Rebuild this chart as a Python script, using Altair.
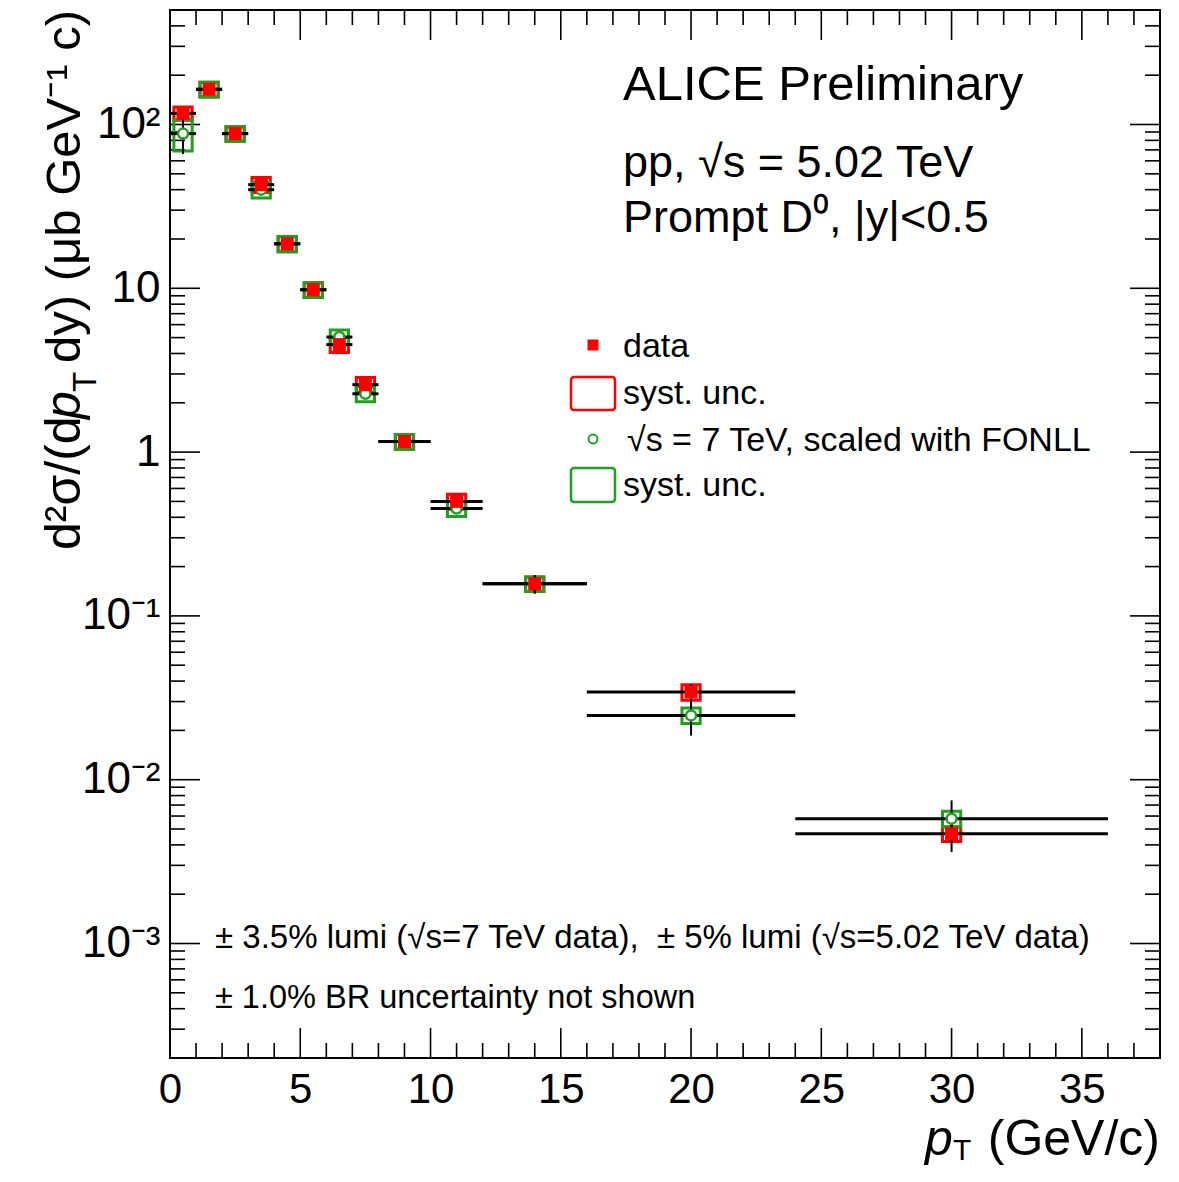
import altair as alt
import pandas as pd

FONT = "Liberation Sans"
RED = "#ff0000"
GREEN = "#1fa01f"

# ---- data ----
pt_center = [0.5, 1.5, 2.5, 3.5, 4.5, 5.5, 6.5, 7.5, 9.0, 11.0, 14.0, 20.0, 30.0]
pt_low = [0, 1, 2, 3, 4, 5, 6, 7, 8, 10, 12, 16, 24]
pt_high = [1, 2, 3, 4, 5, 6, 7, 8, 10, 12, 16, 24, 36]

data_val = [117, 164, 88, 42.9, 18.7, 9.8, 4.53, 2.58, 1.16, 0.50, 0.157, 0.0343, 0.00468]
data_stat = [8, 5, 2.5, 1.2, 0.5, 0.3, 0.15, 0.08, 0.04, 0.02, 0.02, 0.004, 0.00106]
data_syst = [11, 17, 9, 4.5, 2.0, 1.0, 0.48, 0.27, 0.12, 0.052, 0.016, 0.0037, 0.00048]

fonll_val = [88, 164, 88, 40.0, 18.7, 9.8, 5.04, 2.27, 1.16, 0.452, 0.157, 0.0247, 0.00578]
fonll_stat = [22, 6, 3, 1.5, 0.5, 0.3, 0.15, 0.08, 0.04, 0.02, 0.02, 0.0061, 0.0017]
fonll_syst = [19, 17, 9, 4.4, 2.0, 1.0, 0.53, 0.24, 0.12, 0.048, 0.016, 0.0027, 0.00063]

x_major = [0, 5, 10, 15, 20, 25, 30, 35]
x_minor = [v for v in range(1, 39) if v % 5 != 0]
y_major = [1e-3, 1e-2, 1e-1, 1, 10, 100]
y_minor = [k * 10.0 ** n for n in range(-4, 3) for k in range(2, 10) if 2e-4 < k * 10.0 ** n < 500]

BOX_HALF = 0.35  # half width of systematic boxes (GeV/c)

W, H = 990, 1048


def series_df(vals, stat, syst):
    return pd.DataFrame({
        "pt": pt_center, "lo": pt_low, "hi": pt_high, "v": vals,
        "s_lo": [v - s for v, s in zip(vals, stat)],
        "s_hi": [v + s for v, s in zip(vals, stat)],
        "y_lo": [v - s for v, s in zip(vals, syst)],
        "y_hi": [v + s for v, s in zip(vals, syst)],
        "bx0": [p - BOX_HALF for p in pt_center],
        "bx1": [p + BOX_HALF for p in pt_center],
    })


d5 = series_df(data_val, data_stat, data_syst)
d7 = series_df(fonll_val, fonll_stat, fonll_syst)

xs = alt.Scale(domain=[0, 38], nice=False, zero=False)
ys = alt.Scale(type="log", domain=[2e-4, 500], nice=False)

xaxis = alt.Axis(values=x_major, labelFontSize=42, labelFont=FONT, labelColor="black",
                 labelPadding=11, ticks=False, domain=False, grid=False, title=None,
                 labelFlush=False, labelOverlap=False)
yaxis = alt.Axis(values=y_major, labelFontSize=44, labelFont=FONT, labelColor="black",
                 labelPadding=10, ticks=False, domain=False, grid=False, title=None,
                 labelFlush=False, labelOverlap=False,
                 labelExpr="datum.value >= 99 ? '10\u00b2' : datum.value >= 9 ? '10' : "
                           "datum.value >= 0.9 ? '1' : datum.value >= 0.09 ? '10\u207b\u00b9' : "
                           "datum.value >= 0.009 ? '10\u207b\u00b2' : '10\u207b\u00b3'")


def X(f):
    return alt.X(f, type="quantitative", scale=xs, axis=xaxis)


def Y(f):
    return alt.Y(f, type="quantitative", scale=ys, axis=yaxis)


layers = []

# ---- frame ticks (inside, all four sides) ----
def xticks(vals, length):
    df = pd.DataFrame({"t": vals})
    b = alt.Chart(df).mark_rule(color="black", strokeWidth=1.6).encode(
        x=X("t"), y=alt.value(H), y2=alt.value(H - length))
    t = alt.Chart(df).mark_rule(color="black", strokeWidth=1.6).encode(
        x=X("t"), y=alt.value(0), y2=alt.value(length))
    return [b, t]


def yticks(vals, length):
    df = pd.DataFrame({"t": vals})
    l = alt.Chart(df).mark_rule(color="black", strokeWidth=1.6).encode(
        y=Y("t"), x=alt.value(0), x2=alt.value(length))
    r = alt.Chart(df).mark_rule(color="black", strokeWidth=1.6).encode(
        y=Y("t"), x=alt.value(W), x2=alt.value(W - length))
    return [l, r]


layers += xticks(x_major, 30) + xticks(x_minor, 15)
layers += yticks(y_major, 30) + yticks(y_minor, 15)

# ---- systematic boxes ----
box5 = alt.Chart(d5).mark_rect(fillOpacity=0, stroke=RED, strokeWidth=3).encode(
    x=X("bx0"), x2="bx1", y=Y("y_lo"), y2="y_hi")
box7 = alt.Chart(d7).mark_rect(fillOpacity=0, stroke=GREEN, strokeWidth=3).encode(
    x=X("bx0"), x2="bx1", y=Y("y_lo"), y2="y_hi")

# ---- bin-width bars and stat errors ----
hbar5 = alt.Chart(d5).mark_rule(color="black", strokeWidth=3).encode(x=X("lo"), x2="hi", y=Y("v"))
hbar7 = alt.Chart(d7).mark_rule(color="black", strokeWidth=3).encode(x=X("lo"), x2="hi", y=Y("v"))
vbar5 = alt.Chart(d5).mark_rule(color="black", strokeWidth=2).encode(x=X("pt"), y=Y("s_lo"), y2="s_hi")
vbar7 = alt.Chart(d7).mark_rule(color="black", strokeWidth=2).encode(x=X("pt"), y=Y("s_lo"), y2="s_hi")

# ---- markers ----
mk7 = alt.Chart(d7).mark_point(shape="circle", filled=True, fill="white", stroke=GREEN,
                               strokeWidth=2.5, size=100, opacity=1).encode(x=X("pt"), y=Y("v"))
mk5 = alt.Chart(d5).mark_point(shape="square", filled=True, color=RED, size=169,
                               opacity=1).encode(x=X("pt"), y=Y("v"))

layers += [box5, box7, hbar5, hbar7, vbar5, vbar7, mk7, mk5]

# ---- annotations (pixel positions relative to plot area) ----
one = pd.DataFrame({"a": [0]})


def txt(s, x, y, size, align="left", angle=0, style="normal", color="black", font=FONT):
    return alt.Chart(one).mark_text(text=s, align=align, baseline="alphabetic", angle=angle,
                                    fontSize=size, font=font, fontStyle=style,
                                    color=color).encode(x=alt.value(x), y=alt.value(y))


NB = "\u00a0"
layers += [
    txt("ALICE Preliminary", 453, 90, 49),
    txt("pp, \u221as = 5.02 TeV", 453, 167, 45),
    txt("Prompt D\u2070, |y|<0.5", 453, 222, 45),
    txt("data", 453, 347, 34),
    txt("syst. unc.", 453, 394, 34),
    txt("\u221as = 7 TeV, scaled with FONLL", 457, 441, 34),
    txt("syst. unc.", 453, 486, 34),
    txt("\u00b1 3.5% lumi (\u221as=7 TeV data)," + NB + " \u00b1 5% lumi (\u221as=5.02 TeV data)", 45, 938, 33),
    txt("\u00b1 1.0% BR uncertainty not shown", 45, 998, 32.5),
    # x title
    txt("p", 755, 1145, 50, style="italic"),
    txt("T", 783, 1150, 30),
    txt("(GeV/c)", 990, 1145, 50, align="right"),
    # y title (rotated, reads bottom to top)
    txt("d\u00b2\u03c3/(d", -90, 540, 50, angle=270),
    txt("p", -90, 409, 50, angle=270, style="italic"),
    txt("T", -74, 382, 33, angle=270),
    txt("dy) (\u03bcb GeV\u207b\u00b9 c)", -90, 0, 49, align="right", angle=270),
]

# ---- legend ----
leg = [
    alt.Chart(one).mark_point(shape="square", filled=True, color=RED, size=121, opacity=1).encode(
        x=alt.value(423), y=alt.value(335)),
    alt.Chart(one).mark_rect(fillOpacity=0, stroke=RED, strokeWidth=2.5, cornerRadius=3).encode(
        x=alt.value(401), x2=alt.value(445), y=alt.value(367), y2=alt.value(400)),
    alt.Chart(one).mark_point(shape="circle", filled=True, fill="white", stroke=GREEN, strokeWidth=2,
                              size=80, opacity=1).encode(x=alt.value(423), y=alt.value(429)),
    alt.Chart(one).mark_rect(fillOpacity=0, stroke=GREEN, strokeWidth=2.5, cornerRadius=3).encode(
        x=alt.value(401), x2=alt.value(445), y=alt.value(458), y2=alt.value(492)),
]
layers += leg

chart = alt.layer(*layers).properties(
    width=W, height=H,
    padding={"left": 162, "top": 2, "right": 11, "bottom": 108},
    autosize=alt.AutoSizeParams(type="none"),
).configure_view(stroke="black", strokeWidth=2)

chart.save("out.html", embed_options={"renderer": "svg", "actions": False})
